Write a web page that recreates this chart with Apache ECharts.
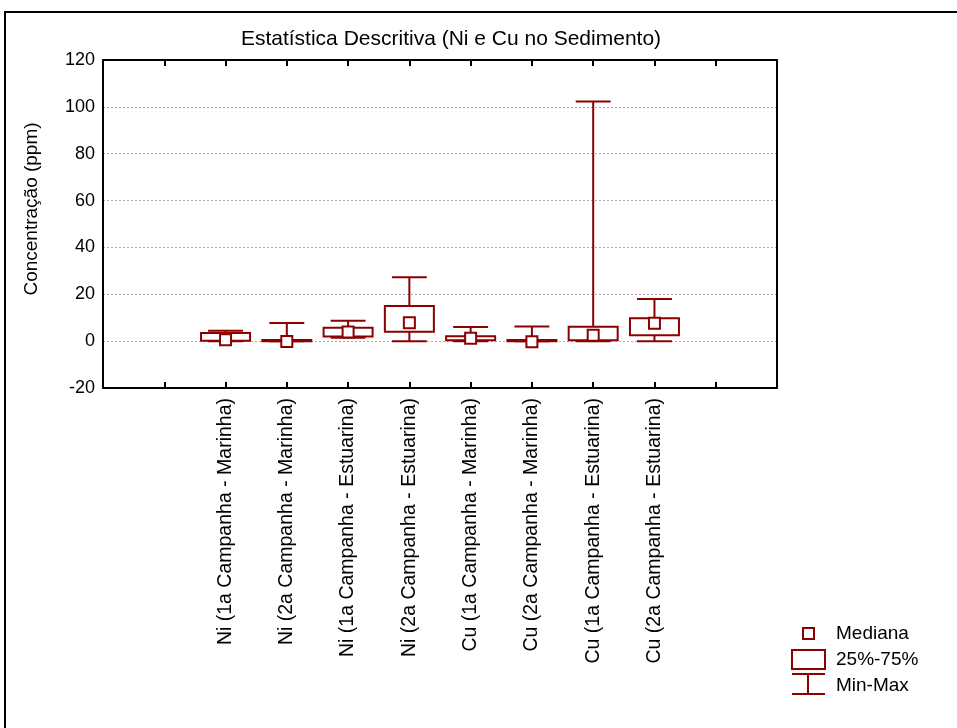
<!DOCTYPE html>
<html>
<head>
<meta charset="utf-8">
<script src="https://cdn.jsdelivr.net/npm/echarts@6/dist/echarts.min.js"></script>
<style>
html,body{margin:0;padding:0;background:#fff;}
#chart{width:957px;height:728px;}
</style>
</head>
<body>
<div id="chart"></div>
<script>
var categories = [
  'Ni (1a Campanha - Marinha)',
  'Ni (2a Campanha - Marinha)',
  'Ni (1a Campanha - Estuarina)',
  'Ni (2a Campanha - Estuarina)',
  'Cu (1a Campanha - Marinha)',
  'Cu (2a Campanha - Marinha)',
  'Cu (1a Campanha - Estuarina)',
  'Cu (2a Campanha - Estuarina)'
];
var minValues    = [0.0, 0.0, 1.4, 0.0, 0.0, 0.0, 0.0, 0.0];
var q1Values     = [0.2, 0.0, 2.0, 4.0, 0.4, 0.0, 0.4, 2.5];
var medianValues = [0.6, -0.2, 3.9, 7.8, 1.2, -0.3, 2.5, 7.6];
var q3Values     = [3.5, 0.5, 5.7, 15.0, 2.1, 0.5, 6.1, 9.8];
var maxValues    = [4.4, 7.7, 8.7, 27.3, 6.0, 6.3, 102.3, 18.0];
var yTicks = [-20, 0, 20, 40, 60, 80, 100, 120];

var RED = '#8b0000';
var axisCats = ['', ''].concat(categories).concat(['', '']);
var data = categories.map(function (c, i) {
  return [i + 2, minValues[i], q1Values[i], medianValues[i], q3Values[i], maxValues[i]];
});

var chart = echarts.init(document.getElementById('chart'));
var FONT = 'Liberation Sans, Arial, sans-serif';

function renderBox(params, api) {
  var x = api.value(0);
  var pMin = api.coord([x, api.value(1)]);
  var pQ1 = api.coord([x, api.value(2)]);
  var pMed = api.coord([x, api.value(3)]);
  var pQ3 = api.coord([x, api.value(4)]);
  var pMax = api.coord([x, api.value(5)]);
  var band = api.size([1, 0])[0];
  var bw = band * 0.8;
  var cw = band * 0.57;
  var cx = pMed[0];
  var ls = {stroke: RED, lineWidth: 2, fill: null};
  var ms = 11;
  return {
    type: 'group',
    children: [
      {type: 'line', shape: {x1: cx, y1: pQ3[1], x2: cx, y2: pMax[1]}, style: ls},
      {type: 'line', shape: {x1: cx, y1: pQ1[1], x2: cx, y2: pMin[1]}, style: ls},
      {type: 'line', shape: {x1: cx - cw / 2, y1: pMax[1], x2: cx + cw / 2, y2: pMax[1]}, style: ls},
      {type: 'line', shape: {x1: cx - cw / 2, y1: pMin[1], x2: cx + cw / 2, y2: pMin[1]}, style: ls},
      {type: 'rect', shape: {x: cx - bw / 2, y: pQ3[1], width: bw, height: pQ1[1] - pQ3[1]}, style: {stroke: RED, lineWidth: 2, fill: 'none'}},
      {type: 'rect', shape: {x: cx - ms / 2, y: pMed[1] - ms / 2, width: ms, height: ms}, style: {stroke: RED, lineWidth: 2, fill: '#fff'}}
    ]
  };
}

var option = {
  backgroundColor: '#fff',
  animation: false,
  title: {
    text: 'Estatística Descritiva (Ni e Cu no Sedimento)',
    left: 446, top: 24, textAlign: 'center',
    textStyle: {fontFamily: FONT, fontSize: 21, fontWeight: 'normal', color: '#000'}
  },
  grid: {left: 103, top: 60, right: 180, bottom: 340},
  xAxis: [{
    type: 'category', data: axisCats, boundaryGap: false, position: 'bottom',
    axisLine: {onZero: false, lineStyle: {color: '#000', width: 2}},
    axisTick: {inside: true, length: 6, lineStyle: {color: '#000', width: 2}, interval: 0},
    axisLabel: {rotate: 90, interval: 0, fontFamily: FONT, fontSize: 19.5, color: '#000', margin: 10},
    splitLine: {show: false}
  }, {
    type: 'category', data: axisCats, boundaryGap: false, position: 'top',
    axisLine: {onZero: false, lineStyle: {color: '#000', width: 2}},
    axisTick: {inside: true, length: 6, lineStyle: {color: '#000', width: 2}, interval: 0},
    axisLabel: {show: false}, splitLine: {show: false}
  }],
  yAxis: [{
    type: 'value', min: -20, max: 120, interval: 20, position: 'left',
    axisLine: {show: true, onZero: false, lineStyle: {color: '#000', width: 2}},
    axisTick: {show: false},
    axisLabel: {fontFamily: FONT, fontSize: 18, color: '#000', margin: 8,
      formatter: function (v) { return yTicks.indexOf(v) >= 0 ? String(v) : ''; }},
    splitLine: {show: true, lineStyle: {color: '#aaa', type: [2, 2], width: 1}},
    name: 'Concentração (ppm)', nameLocation: 'middle', nameRotate: 90, nameGap: 62,
    nameTextStyle: {fontFamily: FONT, fontSize: 19, color: '#000', padding: [0, 0, 0, 30]}
  }, {
    type: 'value', min: -20, max: 120, interval: 20, position: 'right',
    axisLine: {show: true, onZero: false, lineStyle: {color: '#000', width: 2}},
    axisTick: {show: false}, axisLabel: {show: false}, splitLine: {show: false}
  }],
  series: [{
    type: 'custom',
    renderItem: renderBox,
    data: data,
    encode: {x: 0, y: [1, 2, 3, 4, 5]},
    clip: false
  }],
  graphic: [
    {type: 'rect', shape: {x: 5, y: 12, width: 1000, height: 1000}, style: {fill: 'none', stroke: '#000', lineWidth: 2}, z: -10},
    {type: 'rect', shape: {x: 803, y: 628, width: 11, height: 11}, style: {fill: '#fff', stroke: RED, lineWidth: 2}},
    {type: 'text', style: {x: 836, y: 634, text: 'Mediana', font: '19px ' + FONT, fill: '#000', textVerticalAlign: 'middle'}},
    {type: 'rect', shape: {x: 792, y: 650, width: 33, height: 19}, style: {fill: 'none', stroke: RED, lineWidth: 2}},
    {type: 'text', style: {x: 836, y: 660, text: '25%-75%', font: '19px ' + FONT, fill: '#000', textVerticalAlign: 'middle'}},
    {type: 'line', shape: {x1: 792, y1: 674, x2: 825, y2: 674}, style: {stroke: RED, lineWidth: 2}},
    {type: 'line', shape: {x1: 808, y1: 674, x2: 808, y2: 694}, style: {stroke: RED, lineWidth: 2}},
    {type: 'line', shape: {x1: 792, y1: 694, x2: 825, y2: 694}, style: {stroke: RED, lineWidth: 2}},
    {type: 'text', style: {x: 836, y: 686, text: 'Min-Max', font: '19px ' + FONT, fill: '#000', textVerticalAlign: 'middle'}}
  ]
};
chart.setOption(option);
</script>
</body>
</html>
